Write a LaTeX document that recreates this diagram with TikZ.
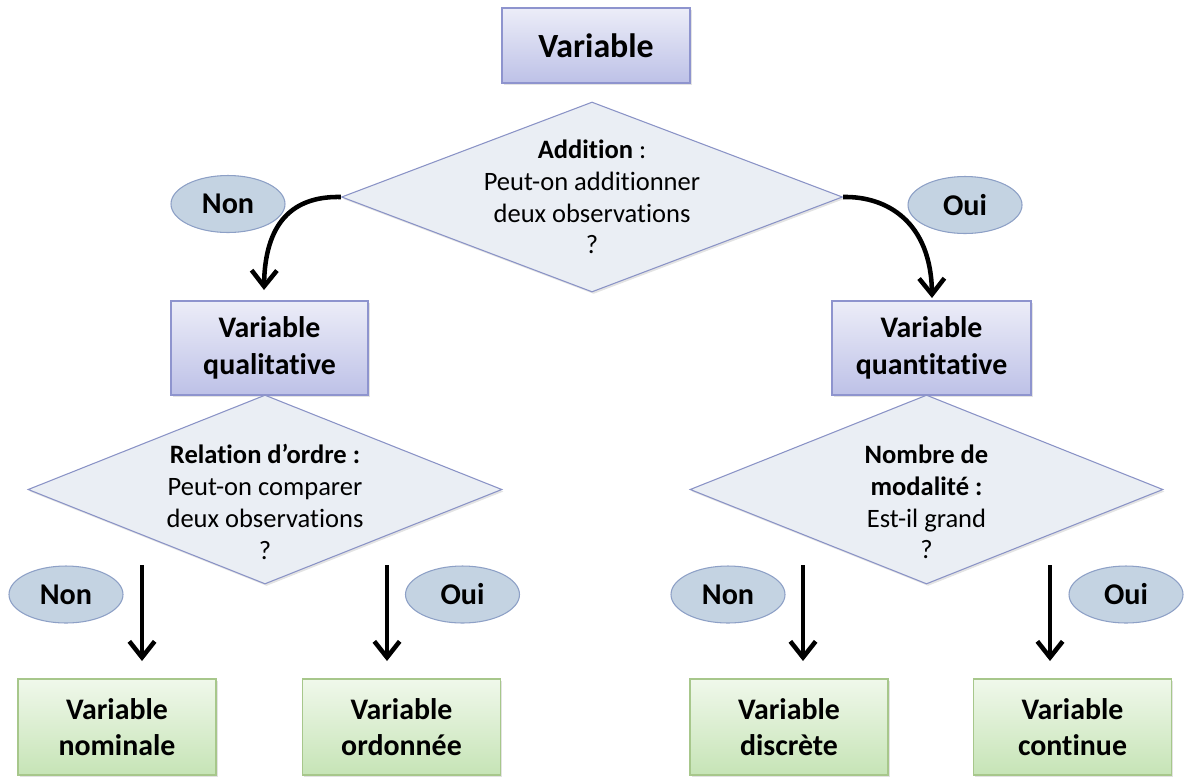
\documentclass[tikz,border=0pt]{standalone}
\usepackage{fontspec}
\setmainfont{Carlito}[Ligatures=NoCommon]
\usetikzlibrary{shapes.geometric,arrows.meta,shadows}
\definecolor{bluetop}{HTML}{ECEDF8}
\definecolor{bluebot}{HTML}{BDC1E7}
\definecolor{blueborder}{HTML}{8E94CE}
\definecolor{greentop}{HTML}{F0F8EB}
\definecolor{greenbot}{HTML}{C6E4B6}
\definecolor{greenborder}{HTML}{A7C78B}
\definecolor{dfill}{HTML}{EAEEF4}
\definecolor{dborder}{HTML}{8A93C6}
\definecolor{efill}{HTML}{C4D3E2}
\definecolor{eborder}{HTML}{8DA0C6}
\begin{document}
\begin{tikzpicture}[x=0.75pt,y=-0.75pt,
  shade/.style={drop shadow={opacity=0.22,shadow xshift=1.2pt,shadow yshift=-1.5pt}},
  bluebox/.style={shade,draw=blueborder,line width=0.8pt,top color=bluetop,bottom color=bluebot,
    inner sep=0pt,align=center,font=\bfseries\fontsize{22.4}{27.5}\selectfont},
  greenbox/.style={shade,draw=greenborder,line width=0.8pt,top color=greentop,bottom color=greenbot,
    inner sep=0pt,minimum width=148.5pt,minimum height=72pt,align=center,
    font=\bfseries\fontsize{22.4}{27.5}\selectfont},
  decision/.style={shade,diamond,draw=dborder,line width=0.8pt,fill=dfill,inner sep=0pt,
    minimum width=355.5pt,minimum height=141.75pt},
  dtext/.style={align=center,inner sep=0pt,font=\fontsize{19.9}{23.8}\selectfont},
  answer/.style={ellipse,draw=eborder,line width=0.8pt,fill=efill,inner sep=0pt,
    minimum width=85.5pt,minimum height=42.75pt,font=\bfseries\fontsize{22.6}{26}\selectfont},
  arr/.style={line width=3.4pt,-{Straight Barb[length=12pt,width=19pt,line width=3.4pt]}}]
\useasboundingbox (0,0) rectangle (1187,776);

% top
\node[bluebox,minimum width=141pt,minimum height=56.25pt,font=\bfseries\fontsize{25.4}{30}\selectfont] (var) at (596,45.5) {Variable};

\node[decision,minimum width=375.75pt,minimum height=142.5pt] (d1) at (592,197) {};
\node[dtext] (d1t) at (592,197) {\textbf{Addition} :\\Peut-on additionner\\deux observations\\?};

\node[answer] (non1) at (228,204) {Non};
\node[answer] (oui1) at (965,205) {Oui};

\node[bluebox,minimum width=147.75pt,minimum height=70.5pt] (qual) at (269.5,348) {Variable\\qualitative};
\node[bluebox,minimum width=149.25pt,minimum height=70.5pt] (quant) at (931.5,348) {Variable\\quantitative};

\coordinate (qtip) at (264,290);
\coordinate (ntip) at (932,298);
\draw[arr] (d1.west) .. controls (300,196) and (265,215) .. (qtip);
\draw[arr] (d1.east) .. controls (887,196) and (931,222) .. (ntip);

% second level decisions
\node[decision] (d2) at (265,489.5) {};
\node[dtext] (d2t) at (265,502) {\textbf{Relation d’ordre :}\\Peut-on comparer\\deux observations\\?};
\node[decision,minimum width=354.75pt] (d3) at (926.5,489.5) {};
\node[dtext] (d3t) at (926.5,502) {\textbf{Nombre de}\\\textbf{modalité :}\\Est-il grand\\?};

% answers
\node[answer] (non2) at (66,594.5) {Non};
\node[answer] (oui2) at (462.5,594.5) {Oui};
\node[answer] (non3) at (728,594.5) {Non};
\node[answer] (oui3) at (1126,594.5) {Oui};

% leaves
\node[greenbox] (nom) at (117,727) {Variable\\nominale};
\node[greenbox] (ord) at (401.5,727) {Variable\\ordonnée};
\node[greenbox] (dis) at (789,727) {Variable\\discrète};
\node[greenbox] (con) at (1072.5,727) {Variable\\continue};

% straight arrows
\coordinate (s1) at (142,565); \coordinate (e1) at (142,661);
\coordinate (s2) at (387,565); \coordinate (e2) at (387,661);
\coordinate (s3) at (803,565); \coordinate (e3) at (803,661);
\coordinate (s4) at (1050,565); \coordinate (e4) at (1050,661);
\draw[arr] (s1) -- (e1);
\draw[arr] (s2) -- (e2);
\draw[arr] (s3) -- (e3);
\draw[arr] (s4) -- (e4);
\end{tikzpicture}
\end{document}
